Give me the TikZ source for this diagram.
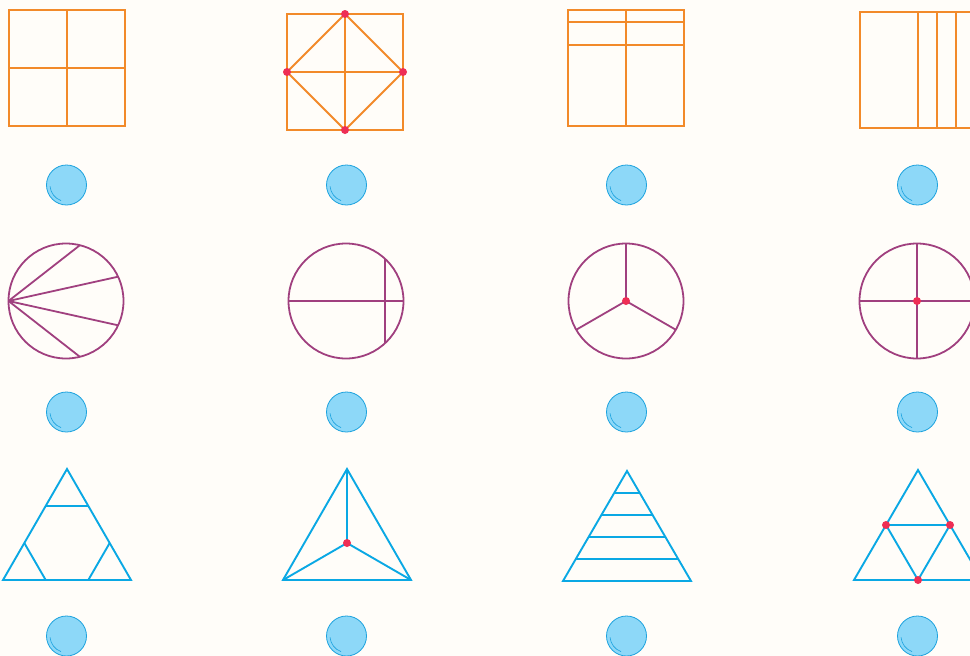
\documentclass[tikz,border=0pt]{standalone}
\usetikzlibrary{calc}
\definecolor{fracPaper}{HTML}{FFFDF9}
\definecolor{fracOrange}{HTML}{F28A2A}
\definecolor{fracPlum}{HTML}{A0407F}
\definecolor{fracCyan}{HTML}{0AA8E4}
\definecolor{fracRose}{HTML}{EE2E55}
\definecolor{fracSky}{HTML}{8DD8F8}
\definecolor{fracSkyInk}{HTML}{1CA2DE}

\begin{document}
\begin{tikzpicture}[
    x=1pt, y=-1pt,
    frac square/.style={draw=fracOrange, line width=1.9pt},
    frac round/.style={draw=fracPlum, line width=1.8pt},
    frac tri/.style={draw=fracCyan, line width=1.9pt, line join=miter},
    frac dot/.style={fill=fracRose},
    frac bubble/.style={draw=fracSkyInk, fill=fracSky, line width=0.8pt},
    frac shine/.style={draw=fracSkyInk, line width=0.6pt, line cap=round},
]

  \fill[fracPaper] (0,0) rectangle (970,656);
  \useasboundingbox (0,0) rectangle (970,656);
  \clip (0,0) rectangle (970,656);

  % Centros das figuras.
  \coordinate (q-q1) at (67,68);
  \coordinate (q-q2) at (345,72);
  \coordinate (q-q3) at (626,68);
  \coordinate (q-q4) at (918,70);
  \coordinate (c-c1) at (66,301);
  \coordinate (c-c2) at (346,301);
  \coordinate (c-c3) at (626,301);
  \coordinate (c-c4) at (917,301);
  \coordinate (t-t1) at (67,469);
  \coordinate (t-t2) at (347,469);
  \coordinate (t-t3) at (627,471);
  \coordinate (t-t4) at (918,470);

  % Quadrados.
  \draw[frac square] ($(q-q1)+(-58,-58)$) rectangle ($(q-q1)+(58,58)$);
  \draw[frac square] ($(q-q1)+(0,-58)$) -- ($(q-q1)+(0,58)$);
  \draw[frac square] ($(q-q1)+(-58,0)$) -- ($(q-q1)+(58,0)$);
  \draw[frac square] ($(q-q2)+(-58,-58)$) rectangle ($(q-q2)+(58,58)$);
  \draw[frac square] ($(q-q2)+(0,-58)$) -- ($(q-q2)+(0,58)$);
  \draw[frac square] ($(q-q2)+(-58,0)$) -- ($(q-q2)+(58,0)$);
  \draw[frac square] ($(q-q2)+(0,-58)$) -- ($(q-q2)+(58,0)$) -- ($(q-q2)+(0,58)$) -- ($(q-q2)+(-58,0)$) -- cycle;
  \draw[frac square] ($(q-q3)+(-58,-58)$) rectangle ($(q-q3)+(58,58)$);
  \draw[frac square] ($(q-q3)+(0,-58)$) -- ($(q-q3)+(0,58)$);
  \draw[frac square] ($(q-q3)+(-58,-46)$) -- ($(q-q3)+(58,-46)$);
  \draw[frac square] ($(q-q3)+(-58,-23)$) -- ($(q-q3)+(58,-23)$);
  \draw[frac square] ($(q-q4)+(-58,-58)$) rectangle ($(q-q4)+(58,58)$);
  \draw[frac square] ($(q-q4)+(0,-58)$) -- ($(q-q4)+(0,58)$);
  \draw[frac square] ($(q-q4)+(19,-58)$) -- ($(q-q4)+(19,58)$);
  \draw[frac square] ($(q-q4)+(38,-58)$) -- ($(q-q4)+(38,58)$);

  % Círculos.
  \draw[frac round] (c-c1) circle[radius=57.5];
  \draw[frac round] ($(c-c1)+(-57.5,0)$) -- ($(c-c1)+(13.9,-55.8)$);
  \draw[frac round] ($(c-c1)+(-57.5,0)$) -- ($(c-c1)+(52.1,-24.3)$);
  \draw[frac round] ($(c-c1)+(-57.5,0)$) -- ($(c-c1)+(52.1,24.3)$);
  \draw[frac round] ($(c-c1)+(-57.5,0)$) -- ($(c-c1)+(13.9,55.8)$);
  \draw[frac round] (c-c2) circle[radius=57.5];
  \draw[frac round] ($(c-c2)+(-57.5,0)$) -- ($(c-c2)+(57.5,0)$);
  \draw[frac round] ($(c-c2)+(39,-42.2)$) -- ($(c-c2)+(39,42.2)$);
  \draw[frac round] (c-c3) circle[radius=57.5];
  \draw[frac round] (c-c3) -- ($(c-c3)+(0,-57.5)$);
  \draw[frac round] (c-c3) -- ($(c-c3)+(-49.8,28.75)$);
  \draw[frac round] (c-c3) -- ($(c-c3)+(49.8,28.75)$);
  \draw[frac round] (c-c4) circle[radius=57.5];
  \draw[frac round] ($(c-c4)+(0,-57.5)$) -- ($(c-c4)+(0,57.5)$);
  \draw[frac round] ($(c-c4)+(-57.5,0)$) -- ($(c-c4)+(57.5,0)$);

  % Triângulos.
  \draw[frac tri] (t-t1) -- ($(t-t1)+(64,111)$) -- ($(t-t1)+(-64,111)$) -- cycle;
  \draw[frac tri] ($(t-t1)+(-21.3,37)$) -- ($(t-t1)+(21.3,37)$);
  \draw[frac tri] ($(t-t1)+(-42.7,74)$) -- ($(t-t1)+(-21.3,111)$);
  \draw[frac tri] ($(t-t1)+(42.7,74)$) -- ($(t-t1)+(21.3,111)$);
  \draw[frac tri] (t-t2) -- ($(t-t2)+(64,111)$) -- ($(t-t2)+(-64,111)$) -- cycle;
  \draw[frac tri] ($(t-t2)+(0,74)$) -- (t-t2);
  \draw[frac tri] ($(t-t2)+(0,74)$) -- ($(t-t2)+(-64,111)$);
  \draw[frac tri] ($(t-t2)+(0,74)$) -- ($(t-t2)+(64,111)$);
  \draw[frac tri] (t-t3) -- ($(t-t3)+(64,110)$) -- ($(t-t3)+(-64,110)$) -- cycle;
  \draw[frac tri] ($(t-t3)+(-12.8,22)$) -- ($(t-t3)+(12.8,22)$);
  \draw[frac tri] ($(t-t3)+(-25.6,44)$) -- ($(t-t3)+(25.6,44)$);
  \draw[frac tri] ($(t-t3)+(-38.4,66)$) -- ($(t-t3)+(38.4,66)$);
  \draw[frac tri] ($(t-t3)+(-51.2,88)$) -- ($(t-t3)+(51.2,88)$);
  \draw[frac tri] (t-t4) -- ($(t-t4)+(64,110)$) -- ($(t-t4)+(-64,110)$) -- cycle;
  \draw[frac tri] ($(t-t4)+(-32,55)$) -- ($(t-t4)+(32,55)$) -- ($(t-t4)+(0,110)$) -- cycle;

  % Pontos.
  \fill[frac dot] ($(q-q2)+(0,-58)$) circle[radius=4];
  \fill[frac dot] ($(q-q2)+(58,0)$) circle[radius=4];
  \fill[frac dot] ($(q-q2)+(0,58)$) circle[radius=4];
  \fill[frac dot] ($(q-q2)+(-58,0)$) circle[radius=4];
  \fill[frac dot] (c-c3) circle[radius=4];
  \fill[frac dot] (c-c4) circle[radius=4];
  \fill[frac dot] ($(t-t2)+(0,74)$) circle[radius=4];
  \fill[frac dot] ($(t-t4)+(-32,55)$) circle[radius=4];
  \fill[frac dot] ($(t-t4)+(32,55)$) circle[radius=4];
  \fill[frac dot] ($(t-t4)+(0,110)$) circle[radius=4];

  % Bolhas de resposta.
  \coordinate (b-b1) at (66.5,185);
  \coordinate (b-b2) at (346.5,185);
  \coordinate (b-b3) at (626.5,185);
  \coordinate (b-b4) at (917.5,185);
  \coordinate (b-b5) at (66.5,412);
  \coordinate (b-b6) at (346.5,412);
  \coordinate (b-b7) at (626.5,412);
  \coordinate (b-b8) at (917.5,412);
  \coordinate (b-b9) at (66.5,636);
  \coordinate (b-b10) at (346.5,636);
  \coordinate (b-b11) at (626.5,636);
  \coordinate (b-b12) at (917.5,636);
  \draw[frac bubble] (b-b1) circle[radius=20];
  \draw[frac shine] ($(b-b1)+(175:16.5)$) arc[start angle=175, end angle=110, radius=16.5];
  \draw[frac bubble] (b-b2) circle[radius=20];
  \draw[frac shine] ($(b-b2)+(175:16.5)$) arc[start angle=175, end angle=110, radius=16.5];
  \draw[frac bubble] (b-b3) circle[radius=20];
  \draw[frac shine] ($(b-b3)+(175:16.5)$) arc[start angle=175, end angle=110, radius=16.5];
  \draw[frac bubble] (b-b4) circle[radius=20];
  \draw[frac shine] ($(b-b4)+(175:16.5)$) arc[start angle=175, end angle=110, radius=16.5];
  \draw[frac bubble] (b-b5) circle[radius=20];
  \draw[frac shine] ($(b-b5)+(175:16.5)$) arc[start angle=175, end angle=110, radius=16.5];
  \draw[frac bubble] (b-b6) circle[radius=20];
  \draw[frac shine] ($(b-b6)+(175:16.5)$) arc[start angle=175, end angle=110, radius=16.5];
  \draw[frac bubble] (b-b7) circle[radius=20];
  \draw[frac shine] ($(b-b7)+(175:16.5)$) arc[start angle=175, end angle=110, radius=16.5];
  \draw[frac bubble] (b-b8) circle[radius=20];
  \draw[frac shine] ($(b-b8)+(175:16.5)$) arc[start angle=175, end angle=110, radius=16.5];
  \draw[frac bubble] (b-b9) circle[radius=20];
  \draw[frac shine] ($(b-b9)+(175:16.5)$) arc[start angle=175, end angle=110, radius=16.5];
  \draw[frac bubble] (b-b10) circle[radius=20];
  \draw[frac shine] ($(b-b10)+(175:16.5)$) arc[start angle=175, end angle=110, radius=16.5];
  \draw[frac bubble] (b-b11) circle[radius=20];
  \draw[frac shine] ($(b-b11)+(175:16.5)$) arc[start angle=175, end angle=110, radius=16.5];
  \draw[frac bubble] (b-b12) circle[radius=20];
  \draw[frac shine] ($(b-b12)+(175:16.5)$) arc[start angle=175, end angle=110, radius=16.5];
\end{tikzpicture}
\end{document}
